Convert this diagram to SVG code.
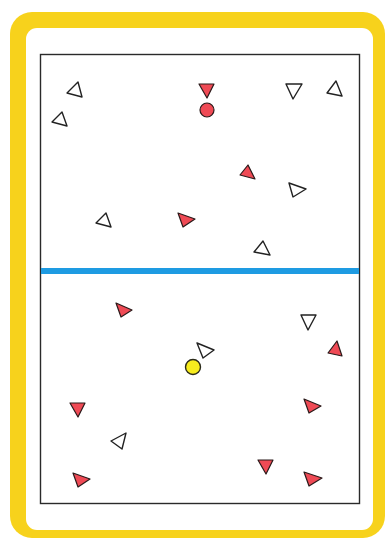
<svg xmlns="http://www.w3.org/2000/svg" width="387" height="542" viewBox="0 0 387 542">
<style>
.red{fill:#ef4a55;stroke:#2a1a1a;stroke-width:1.2;stroke-linejoin:round}
.wht{fill:#ffffff;stroke:#222222;stroke-width:1.4;stroke-linejoin:round}
</style>
<rect x="0" y="0" width="387" height="542" fill="#ffffff"/>
<rect x="10" y="12" width="375" height="526" rx="22" fill="#f7d21c"/>
<rect x="26" y="28" width="347" height="502" rx="11" fill="#ffffff"/>
<rect id="field" x="40.5" y="54.5" width="319" height="449" fill="#ffffff" stroke="#2a2a2a" stroke-width="1.4"/>
<rect id="midline" x="41" y="268" width="318" height="6" fill="#1e9be2"/>
<g id="players">
<polygon class="wht" points="67,93 78,82 82,97"/>
<polygon class="wht" points="52,122 62,112 67,126"/>
<polygon class="red" points="199,84 214,84 207,98"/>
<circle class="red" cx="207" cy="110" r="7"/>
<polygon class="wht" points="286,84 302,84 293,99"/>
<polygon class="wht" points="336,81 327,93 342,96"/>
<polygon class="red" points="240,175 248,165 255,179"/>
<polygon class="wht" points="289,183 306,189 293,197"/>
<polygon class="wht" points="96,223 106,213 111,227"/>
<polygon class="red" points="178,213 195,219 183,227"/>
<polygon class="wht" points="254,252 263,241 270,255"/>
<polygon class="red" points="116,303 132,310 121,317"/>
<polygon class="wht" points="301,315 316,315 308,330"/>
<polygon class="wht" points="197,343 214,350 203,358"/>
<circle cx="193" cy="367" r="7.5" fill="#f7ec1e" stroke="#2a2a1a" stroke-width="1.4"/>
<polygon class="red" points="337,341 342,356 328,353"/>
<polygon class="red" points="70,403 85,403 78,417"/>
<polygon class="red" points="304,399 321,406 309,413"/>
<polygon class="wht" points="111,441 126,433 122,449"/>
<polygon class="red" points="73,473 90,479 78,487"/>
<polygon class="red" points="258,460 273,460 266,474"/>
<polygon class="red" points="304,472 322,478 309,486"/>
</g>
</svg>
